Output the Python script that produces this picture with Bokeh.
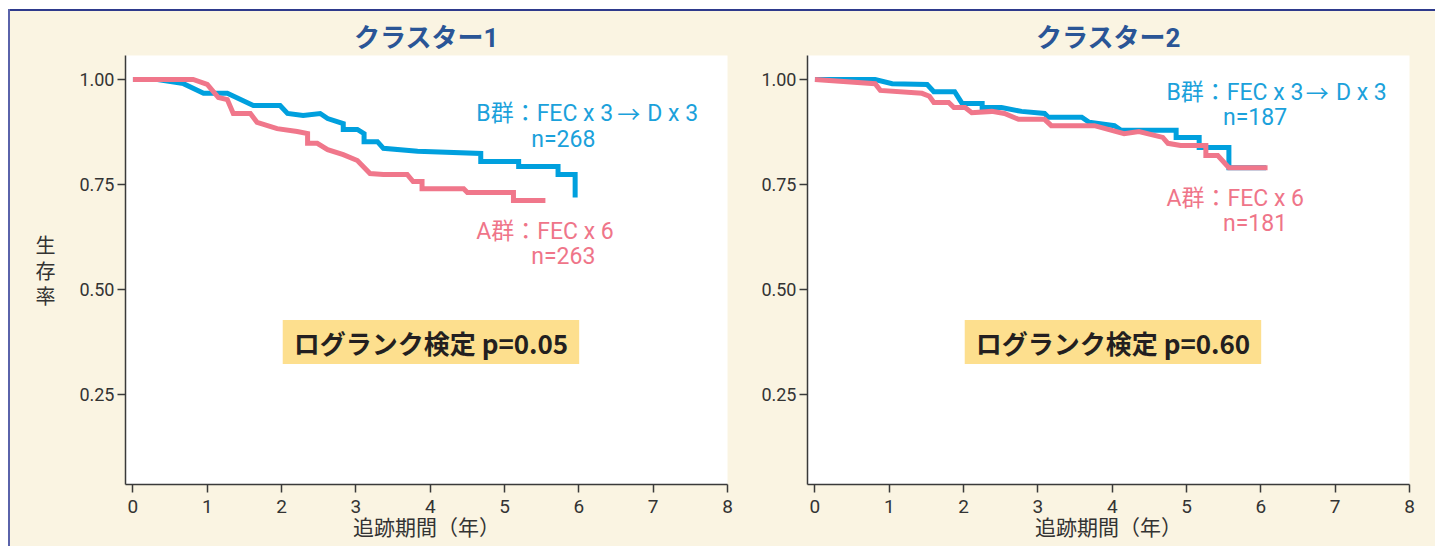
from bokeh.plotting import figure
from bokeh.layouts import row, column, Spacer
from bokeh.models import FixedTicker, PrintfTickFormatter, Label, Range1d
from bokeh.embed import file_html
from bokeh.resources import INLINE

# ---------------- data ----------------
titles = ["クラスター1", "クラスター2"]
x_label = "追跡期間（年）"
y_label = "生\n存\n率"
x_ticks = [0, 1, 2, 3, 4, 5, 6, 7, 8]
y_ticks = [0.25, 0.50, 0.75, 1.00]

# Cluster 1, group B (FEC x3 -> D x3)
c1_b_t = [0, 0.33, 0.68, 0.95, 1.27, 1.62, 1.98, 2.08, 2.29, 2.52, 2.62, 2.83, 2.83, 3.02, 3.11, 3.11,
          3.29, 3.37, 3.83, 4.68, 4.68, 5.19, 5.19, 5.72, 5.72, 5.95, 5.95]
c1_b_s = [1.0, 1.0, 0.990, 0.967, 0.967, 0.938, 0.938, 0.919, 0.914, 0.919, 0.907, 0.895, 0.881, 0.881, 0.871, 0.852,
          0.852, 0.836, 0.829, 0.824, 0.805, 0.805, 0.793, 0.793, 0.774, 0.774, 0.719]
# Cluster 1, group A (FEC x6)
c1_a_t = [0, 0.81, 1.0, 1.15, 1.27, 1.35, 1.58, 1.67, 1.94, 2.21, 2.35, 2.35, 2.48, 2.62, 2.83, 3.02,
          3.19, 3.37, 3.69, 3.77, 3.89, 3.89, 4.45, 4.50, 5.12, 5.12, 5.55]
c1_a_s = [1.0, 1.0, 0.988, 0.957, 0.952, 0.919, 0.919, 0.898, 0.883, 0.876, 0.871, 0.848, 0.848, 0.833, 0.821, 0.807,
          0.776, 0.774, 0.774, 0.757, 0.757, 0.740, 0.740, 0.731, 0.731, 0.712, 0.712]
# Cluster 2, group B
c2_b_t = [0, 0.81, 1.04, 1.51, 1.60, 1.88, 1.98, 2.25, 2.25, 2.51, 2.78, 3.09, 3.14, 3.59, 3.69, 4.03,
          4.12, 4.86, 4.86, 5.17, 5.17, 5.57, 5.57, 6.07]
c2_b_s = [1.0, 1.0, 0.990, 0.988, 0.971, 0.971, 0.943, 0.943, 0.933, 0.933, 0.924, 0.919, 0.910, 0.910, 0.898, 0.890,
          0.879, 0.879, 0.862, 0.862, 0.838, 0.838, 0.790, 0.790]
# Cluster 2, group A
c2_a_t = [0, 0.81, 0.88, 1.44, 1.54, 1.60, 1.80, 1.87, 2.02, 2.11, 2.38, 2.55, 2.74, 3.09, 3.18, 3.59,
          3.76, 4.16, 4.36, 4.68, 4.75, 4.92, 5.26, 5.26, 5.42, 5.57, 6.09]
c2_a_s = [1.0, 0.990, 0.974, 0.967, 0.960, 0.945, 0.945, 0.933, 0.933, 0.921, 0.924, 0.919, 0.905, 0.905, 0.890, 0.890,
          0.890, 0.871, 0.876, 0.862, 0.848, 0.843, 0.843, 0.819, 0.819, 0.790, 0.790]

b_head = ["B群：FEC x 3", "B群：FEC x 3"]
b_arrow = ["→", "→"]
b_tail = ["D x 3", "D x 3"]
a_labels = ["A群：FEC x 6", "A群：FEC x 6"]
b_n = ["n=268", "n=187"]
a_n = ["n=263", "n=181"]
p_text = ["ログランク検定 p=0.05", "ログランク検定 p=0.60"]

# label anchor positions (data units)
b_head_pos = [(4.62, 0.919), (4.73, 0.969)]
b_arrow_pos = [(6.67, 0.919), (6.76, 0.969)]
b_tail_pos = [(6.92, 0.919), (7.01, 0.969)]
b_n_pos = [(5.36, 0.857), (5.49, 0.910)]
a_lab_pos = [(4.62, 0.638), (4.73, 0.717)]
a_n_pos = [(5.36, 0.579), (5.49, 0.657)]
p_pos = [(4.01, 0.375), (4.01, 0.375)]

# ---------------- style ----------------
BLUE = "#00A0DE"
PINK = "#F0778B"
BLUE_T = "#1BA1DB"
PINK_T = "#EF7589"
CREAM = "#FAF4E2"
TITLE_C = "#2A5596"
BOX_C = "#FDDF8E"
AX_C = "#3A3A3A"
TOP_LINE = "#2E3A8C"
LEFT_LINE = "#5A63AA"
LAT = "Roboto, Noto Sans CJK JP"
CJK = "Noto Sans CJK JP"
FIG_H = 535


def make_fig(i, width, left, right, curves, with_ylabel):
    p = figure(width=width, height=FIG_H, output_backend="svg", toolbar_location=None,
               x_range=Range1d(-0.1, 8.0), y_range=Range1d(0.036, 1.057),
               min_border_left=left, min_border_right=right,
               min_border_top=44, min_border_bottom=62)
    p.background_fill_color = "white"
    p.border_fill_color = CREAM
    p.outline_line_color = None
    p.grid.visible = False

    p.title.text = titles[i]
    p.title.align = "center"
    p.title.text_font = LAT
    p.title.text_font_size = "26px"
    p.title.text_font_style = "bold"
    p.title.text_color = TITLE_C
    p.title.standoff = 6

    for ax in (p.xaxis[0], p.yaxis[0]):
        ax.axis_line_color = AX_C
        ax.axis_line_width = 1.5
        ax.major_tick_line_color = AX_C
        ax.major_tick_line_width = 1.5
        ax.major_tick_in = 0
        ax.major_tick_out = 8
        ax.minor_tick_line_color = None
        ax.major_label_text_font = LAT
        ax.major_label_text_color = "#333333"

    p.xaxis.ticker = FixedTicker(ticks=x_ticks)
    p.xaxis.major_label_text_font_size = "19px"
    p.xaxis.major_label_standoff = 7
    p.xaxis.axis_label = x_label
    p.xaxis.axis_label_text_font = LAT
    p.xaxis.axis_label_text_font_style = "normal"
    p.xaxis.axis_label_text_font_size = "21px"
    p.xaxis.axis_label_text_color = "#333333"
    p.xaxis.axis_label_standoff = 0

    p.yaxis.ticker = FixedTicker(ticks=y_ticks)
    p.yaxis.formatter = PrintfTickFormatter(format="%.2f")
    p.yaxis.major_label_text_font_size = "18px"
    p.yaxis.major_label_standoff = 3
    if with_ylabel:
        p.yaxis.axis_label = y_label
        p.yaxis.axis_label_orientation = "horizontal"
        p.yaxis.axis_label_text_font = CJK
        p.yaxis.axis_label_text_font_style = "normal"
        p.yaxis.axis_label_text_font_size = "20px"
        p.yaxis.axis_label_text_line_height = 0.88
        p.yaxis.axis_label_text_color = "#333333"
        p.yaxis.axis_label_standoff = 21

    (bt, bs), (at, as_) = curves
    p.line(bt, bs, line_color=BLUE, line_width=5, line_join="miter")
    p.line(at, as_, line_color=PINK, line_width=5, line_join="miter")

    def lab(pos, text, color, font=LAT, align="left"):
        p.add_layout(Label(x=pos[0], y=pos[1], text=text, text_color=color,
                           text_font=font, text_font_size="23px",
                           text_align=align, text_baseline="middle"))

    lab(b_head_pos[i], b_head[i], BLUE_T)
    lab(b_arrow_pos[i], b_arrow[i], BLUE_T, font=CJK, align="center")
    lab(b_tail_pos[i], b_tail[i], BLUE_T)
    lab(b_n_pos[i], b_n[i], BLUE_T)
    lab(a_lab_pos[i], a_labels[i], PINK_T)
    lab(a_n_pos[i], a_n[i], PINK_T)

    p.add_layout(Label(x=p_pos[i][0], y=p_pos[i][1], text=p_text[i], text_color="#231F20",
                       text_font=CJK, text_font_size="26px", text_font_style="bold",
                       text_align="center", text_baseline="middle",
                       background_fill_color=BOX_C, padding=(11, 11, 4, 3)))
    return p


p1 = make_fig(0, 748, 115, 31, ((c1_b_t, c1_b_s), (c1_a_t, c1_a_s)), True)
p2 = make_fig(1, 677, 47, 26, ((c2_b_t, c2_b_s), (c2_a_t, c2_a_s)), False)

plots = row(p1, p2, spacing=0, styles={"background-color": CREAM})
top_line = Spacer(width=1425, height=2, styles={"background-color": TOP_LINE})
left_line = Spacer(width=2, height=FIG_H + 2, styles={"background-color": LEFT_LINE})
framed = row(left_line, column(top_line, plots, spacing=0), spacing=0)
layout = column(Spacer(height=9), row(Spacer(width=8), framed, spacing=0), spacing=0)
open("out.html", "w").write(file_html(layout, INLINE))
